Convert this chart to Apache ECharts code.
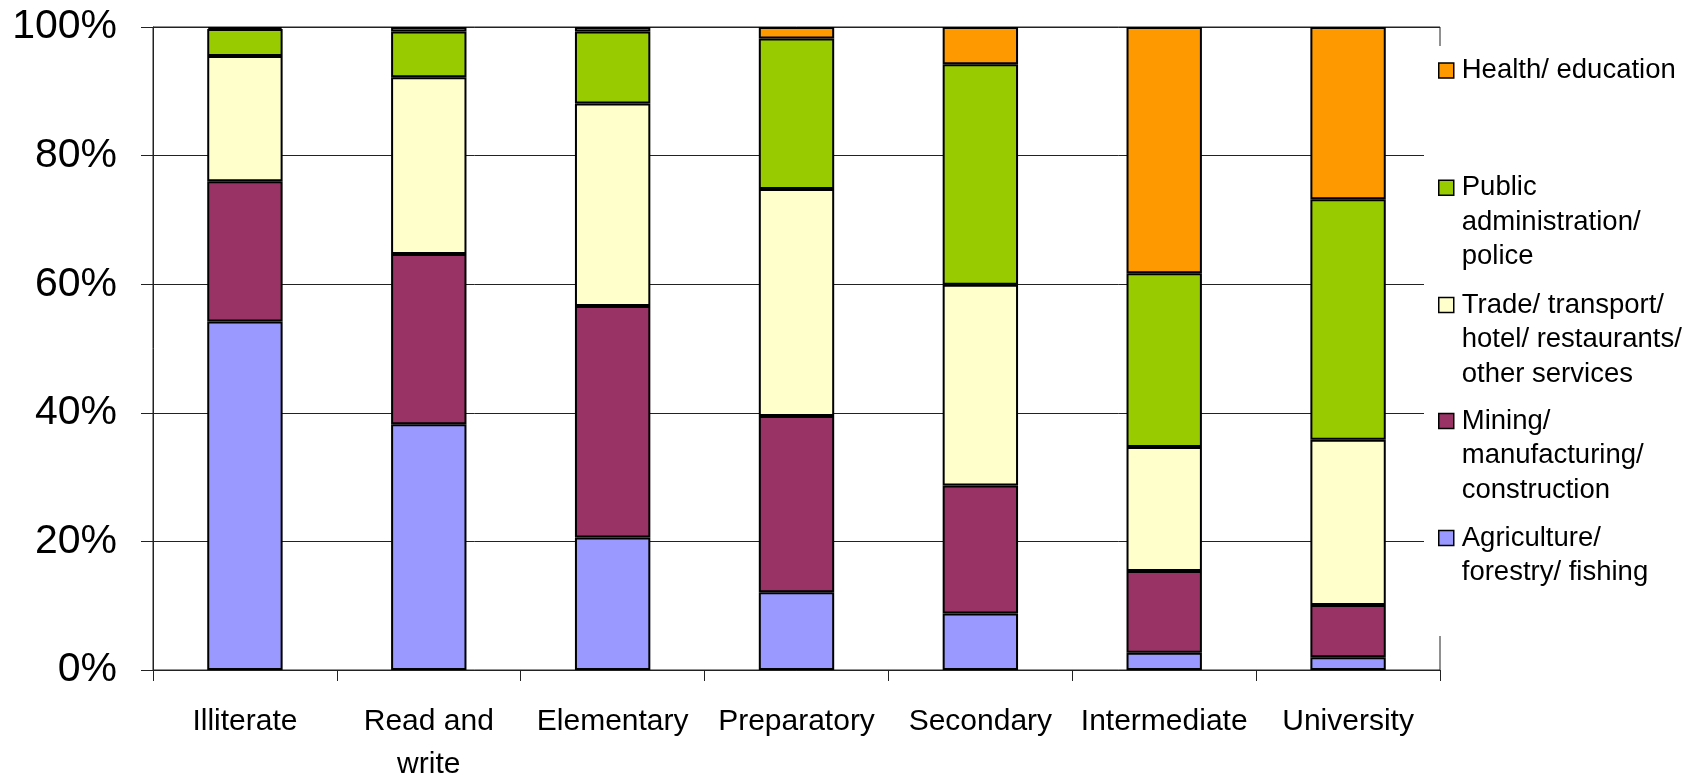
<!DOCTYPE html>
<html>
<head>
<meta charset="utf-8">
<script src="https://cdn.jsdelivr.net/npm/echarts@6/dist/echarts.min.js"></script>
<style>
html,body{margin:0;padding:0;background:#fff;}
#chart{width:1701px;height:775px;}
</style>
</head>
<body>
<div id="chart"></div>
<script>
// ---- data ----
const categories = ['Illiterate', 'Read and write', 'Elementary', 'Preparatory', 'Secondary', 'Intermediate', 'University'];
const seriesNames = [
  'Agriculture/ forestry/ fishing',
  'Mining/ manufacturing/ construction',
  'Trade/ transport/ hotel/ restaurants/ other services',
  'Public administration/ police',
  'Health/ education'
];
const legendLabels = [
  'Agriculture/\nforestry/ fishing',
  'Mining/\nmanufacturing/\nconstruction',
  'Trade/ transport/\nhotel/ restaurants/\nother services',
  'Public\nadministration/\npolice',
  'Health/ education'
];
const agriculture = [54.2, 38.2, 20.6, 12.1, 8.8, 2.7, 2.0];
const mining      = [21.8, 26.5, 36.0, 27.4, 19.9, 12.7, 8.1];
const trade       = [19.5, 27.5, 31.5, 35.3, 31.2, 19.3, 25.7];
const publicAdmin = [4.2, 7.1, 11.2, 23.4, 34.3, 27.0, 37.4];
const health      = [0.3, 0.7, 0.7, 1.8, 5.8, 38.3, 26.8];
const yTicks = [0, 20, 40, 60, 80, 100];

const seriesValues = [agriculture, mining, trade, publicAdmin, health];
const colors = ['#9999FF', '#993366', '#FFFFCC', '#99CC00', '#FF9900'];

const FONT = '"Liberation Sans", Arial, sans-serif';
const chart = echarts.init(document.getElementById('chart'), null, {renderer: 'canvas'});

// legend: one component per item, top to bottom (reverse stack order)
const legendIconCenters = [538, 421, 305, 187.7, 70.5]; // y of first text line per series index
const LH = 34.5;
const legends = seriesNames.map((name, i) => {
  const n = legendLabels[i].split('\n').length;
  const boxH = (2 * n - 1) * LH;
  // prepend blank lines so the first text line sits level with the icon
  const label = '\n'.repeat(n - 1) + legendLabels[i];
  return {
    data: [name],
    orient: 'vertical',
    left: 1438,
    top: legendIconCenters[i] - boxH / 2,
    padding: 0,
    itemWidth: 15,
    itemHeight: 15,
    icon: 'rect',
    z: 20,
    selectedMode: false,
    formatter: () => label,
    itemStyle: {borderColor: '#000', borderWidth: 1.5},
    textStyle: {
      fontFamily: FONT, fontSize: 27.5, color: '#000', lineHeight: LH,
      padding: [0, 0, 0, 3]
    }
  };
});

const option = {
  backgroundColor: '#fff',
  animation: false,
  textStyle: {fontFamily: FONT},
  grid: {
    left: 153, right: 261, top: 27, bottom: 105,
    outerBoundsMode: 'none',
    containLabel: false,
    show: true, borderColor: '#222', borderWidth: 1, backgroundColor: 'transparent'
  },
  legend: legends,
  graphic: [{
    type: 'rect',
    z: 10,
    shape: {x: 1424, y: 46, width: 277, height: 590},
    style: {fill: '#fff'},
    silent: true
  }],
  xAxis: {
    type: 'category',
    data: categories,
    boundaryGap: true,
    axisLine: {show: true, lineStyle: {color: '#222', width: 1}},
    axisTick: {show: true, length: 11, lineStyle: {color: '#222'}},
    axisLabel: {
      fontFamily: FONT, fontSize: 30, color: '#000', lineHeight: 43, margin: 30,
      interval: 0,
      formatter: v => v === 'Read and write' ? 'Read and\nwrite' : v
    }
  },
  yAxis: {
    type: 'value',
    min: yTicks[0], max: yTicks[yTicks.length - 1], interval: 20,
    axisLine: {show: true, lineStyle: {color: '#222', width: 1}},
    axisTick: {show: true, length: 12, lineStyle: {color: '#222'}},
    splitLine: {show: true, lineStyle: {color: '#222', width: 1}},
    axisLabel: {fontFamily: FONT, fontSize: 41, color: '#000', margin: 36, formatter: '{value}%'}
  },
  series: seriesNames.map((name, i) => ({
    name: name,
    type: 'bar',
    stack: 'total',
    data: seriesValues[i],
    barCategoryGap: '59%',
    itemStyle: {color: colors[i], borderColor: '#000', borderWidth: 2}
  }))
};
chart.setOption(option);
</script>
</body>
</html>
